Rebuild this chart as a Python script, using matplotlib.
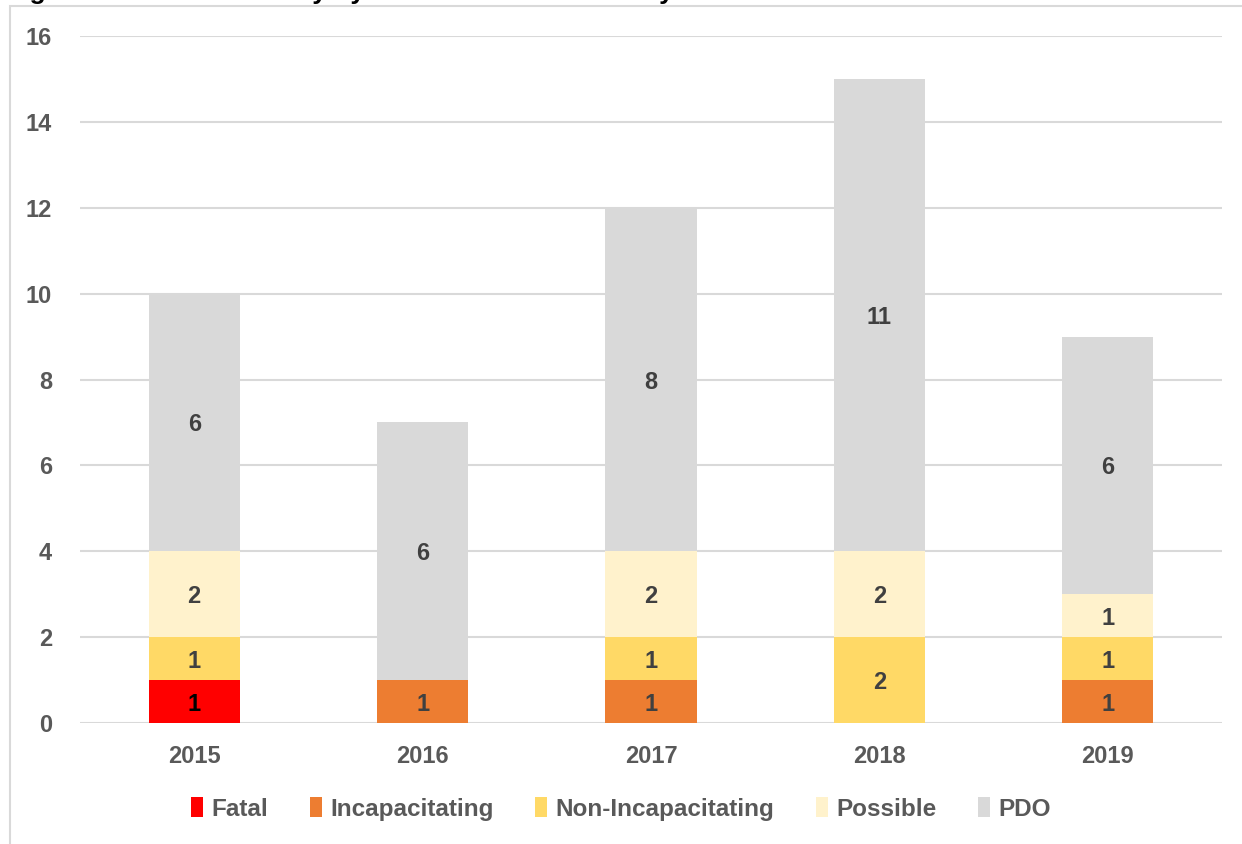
import numpy as np
import matplotlib.pyplot as plt
from matplotlib.patches import Rectangle

# crash counts by year and severity
years = ['2015', '2016', '2017', '2018', '2019']
fatal = [1, 0, 0, 0, 0]
incap = [0, 1, 1, 0, 1]
non_incap = [1, 0, 1, 2, 1]
possible = [2, 0, 2, 2, 1]
pdo = [6, 6, 8, 11, 6]

series = [('Fatal', fatal, '#ff0000'),
          ('Incapacitating', incap, '#ed7d31'),
          ('Non-Incapacitating', non_incap, '#ffd966'),
          ('Possible', possible, '#fff2cc'),
          ('PDO', pdo, '#d9d9d9')]

plt.rcParams['font.family'] = ['Liberation Sans', 'DejaVu Sans']

fig = plt.figure(figsize=(12.42, 8.44), dpi=100)
ax = fig.add_axes([80/1242, 1 - 723/844, 1142/1242, (723 - 36)/844])

# outer frame of the chart area (top and left edges visible)
fig.patches.append(Rectangle((10/1242, -0.1), 1.2, 1 - 6/844 + 0.1,
                             transform=fig.transFigure, fill=False,
                             edgecolor='#d9d9d9', lw=1.5))
# title line, cropped at the top edge as in the reference
fig.text(6/1242, 1 + 1.5/844, 'Figure 4: Crash Summary by Year and Crash Severity',
         fontsize=19, fontweight='bold', color='black', va='baseline',
         ha='left')

x = np.arange(len(years))
bottom = np.zeros(len(years))
for name, vals, col in series:
    vals = np.array(vals, dtype=float)
    ax.bar(x, vals, 0.40, bottom=bottom, color=col, label=name, zorder=3)
    for xi, b, v in zip(x, bottom, vals):
        if v > 0:
            ax.text(xi, b + v/2, '%d' % v, ha='center', va='center_baseline',
                    fontsize=17, fontweight='bold',
                    color='black' if name == 'Fatal' else '#404040', zorder=4)
    bottom += vals

ax.set_xlim(-0.5, len(years) - 0.5)
ax.set_ylim(0, 16)
ax.set_yticks(range(0, 17, 2))
ax.set_xticks(x)
ax.set_xticklabels(years)
ax.yaxis.grid(True, color='#d9d9d9', lw=1.5, zorder=0)
for s in ax.spines.values():
    s.set_visible(False)
ax.tick_params(length=0, labelsize=17, labelcolor='#595959')
ax.tick_params(axis='y', pad=20)
ax.tick_params(axis='x', pad=16)
for lab in ax.get_xticklabels() + ax.get_yticklabels():
    lab.set_fontweight('bold')

leg = fig.legend(loc='center', bbox_to_anchor=(0.5, 1 - 809/844), ncol=5,
                 frameon=False, handlelength=0.5, handleheight=0.9,
                 handletextpad=0.35, columnspacing=1.7,
                 prop={'size': 17.5, 'weight': 'bold'})
for t in leg.get_texts():
    t.set_color('#595959')

fig.savefig('out.png', dpi=100)
